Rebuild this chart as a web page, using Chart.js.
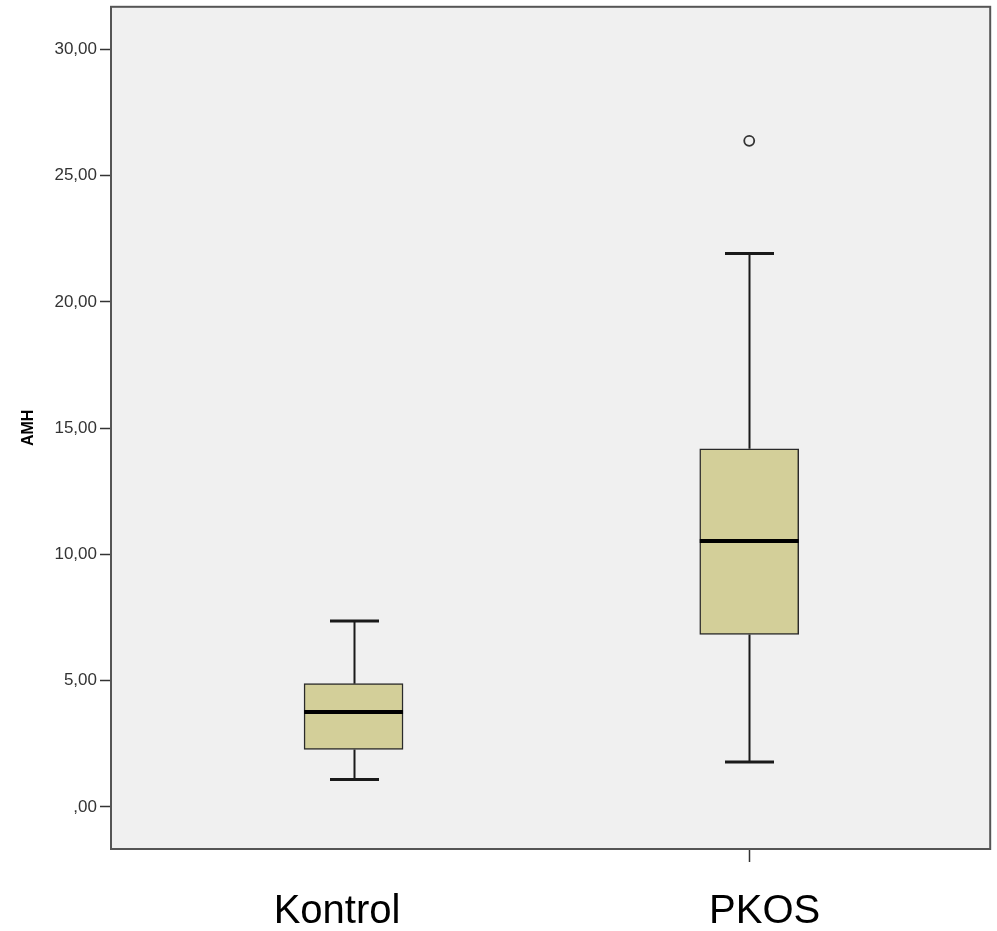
<!DOCTYPE html>
<html>
<head>
<meta charset="utf-8">
<script src="https://cdn.jsdelivr.net/npm/chart.js@4/dist/chart.umd.min.js"></script>
<style>
  html, body { margin: 0; padding: 0; background: #ffffff; }
  #wrap { width: 997px; height: 931px; }
</style>
</head>
<body>
<div id="wrap"><canvas id="c" width="997" height="931"></canvas></div>
<script>
// ---- Data ----
const categories = ['Kontrol', 'PKOS'];
const mins      = [1.08, 1.78];
const q1s       = [2.27, 6.83];
const medians   = [3.76, 10.53];
const q3s       = [4.88, 14.18];
const maxs      = [7.36, 21.92];
const outlierGroup  = [1];
const outlierValues = [26.38];
const yTickValues = [0, 5, 10, 15, 20, 25, 30];
const yTitle = 'AMH';

// ---- Styles ----
const BOX_FILL = '#d3cf99';
const BOX_WIDTH = 99;
const CAP_HALF = 24.5;

const boxPlotPlugin = {
  id: 'boxplotParts',
  beforeDraw(chart) {
    const { ctx, chartArea: a } = chart;
    ctx.save();
    ctx.fillStyle = '#ffffff';
    ctx.fillRect(0, 0, chart.width, chart.height);
    ctx.fillStyle = '#f0f0f0';
    ctx.fillRect(a.left, a.top, a.right - a.left, a.bottom - a.top);
    ctx.restore();
  },
  beforeDatasetsDraw(chart) {
    const { ctx } = chart;
    const xs = chart.scales.x, ys = chart.scales.y;
    ctx.save();
    ctx.strokeStyle = '#1a1a1a';
    categories.forEach((c, i) => {
      const px = Math.round(xs.getPixelForValue(i)) + 0.5;
      const pMax = ys.getPixelForValue(maxs[i]);
      const pQ3 = ys.getPixelForValue(q3s[i]);
      const pQ1 = ys.getPixelForValue(q1s[i]);
      const pMin = ys.getPixelForValue(mins[i]);
      ctx.lineWidth = 2;
      ctx.beginPath();
      ctx.moveTo(px, pMax); ctx.lineTo(px, pQ3);
      ctx.moveTo(px, pQ1); ctx.lineTo(px, pMin);
      ctx.stroke();
      ctx.lineWidth = 3;
      ctx.beginPath();
      ctx.moveTo(px - CAP_HALF, pMax); ctx.lineTo(px + CAP_HALF, pMax);
      ctx.moveTo(px - CAP_HALF, pMin); ctx.lineTo(px + CAP_HALF, pMin);
      ctx.stroke();
    });
    ctx.restore();
  },
  afterDatasetsDraw(chart) {
    const { ctx } = chart;
    const xs = chart.scales.x, ys = chart.scales.y;
    ctx.save();
    ctx.strokeStyle = '#000000';
    ctx.lineWidth = 4;
    categories.forEach((c, i) => {
      const px = xs.getPixelForValue(i);
      const pm = ys.getPixelForValue(medians[i]);
      ctx.beginPath();
      ctx.moveTo(px - BOX_WIDTH / 2, pm);
      ctx.lineTo(px + BOX_WIDTH / 2, pm);
      ctx.stroke();
    });
    ctx.restore();
  },
  afterDraw(chart) {
    const { ctx, chartArea: a } = chart;
    ctx.save();
    ctx.strokeStyle = '#555555';
    ctx.lineWidth = 2;
    ctx.strokeRect(a.left, a.top, a.right - a.left, a.bottom - a.top);
    ctx.restore();
  }
};

function fmt(v) {
  if (v === 0) return ',00';
  return v.toFixed(2).replace('.', ',');
}

new Chart(document.getElementById('c'), {
  data: {
    datasets: [
      {
        type: 'bar',
        data: categories.map((c, i) => ({ x: i, y: [q1s[i], q3s[i]] })),
        backgroundColor: BOX_FILL,
        borderColor: '#2a2a2a',
        borderWidth: 1.5,
        borderSkipped: false,
        barThickness: BOX_WIDTH,
        xAxisID: 'x',
        yAxisID: 'y'
      },
      {
        type: 'scatter',
        data: outlierValues.map((v, k) => ({ x: outlierGroup[k], y: v })),
        pointRadius: 5,
        pointBackgroundColor: 'rgba(0,0,0,0)',
        pointBorderColor: '#333333',
        pointBorderWidth: 1.8,
        xAxisID: 'x',
        yAxisID: 'y'
      }
    ]
  },
  options: {
    responsive: false,
    animation: false,
    layout: { padding: { top: 6, right: 3, left: 0, bottom: 0 } },
    plugins: { legend: { display: false }, tooltip: { enabled: false } },
    scales: {
      x: {
        type: 'linear',
        position: 'bottom',
        weight: 0,
        offset: false,
        min: -0.613,
        max: 1.609,
        afterBuildTicks: (s) => { s.ticks = categories.map((c, i) => ({ value: i })); },
        ticks: { callback: () => '', padding: 0 },
        grid: {
          offset: false,
          drawOnChartArea: false,
          drawTicks: true,
          tickLength: 13,
          tickWidth: 1.5,
          color: (ctx) => (ctx.tick && ctx.tick.value === 1 ? '#333333' : 'rgba(0,0,0,0)')
        },
        border: { display: false },
        afterFit: (s) => { s.height = 13; s.paddingLeft = 0; s.paddingRight = 0; }
      },
      x2: {
        type: 'linear',
        position: 'bottom',
        weight: 1,
        offset: false,
        min: -0.5286,
        max: 1.5274,
        afterBuildTicks: (s) => { s.ticks = categories.map((c, i) => ({ value: i })); },
        grid: { display: false, drawTicks: false },
        border: { display: false },
        ticks: {
          callback: (v) => categories[v] ?? '',
          color: '#000000',
          font: { family: "'Liberation Sans', Arial, sans-serif", size: 40 },
          padding: 26
        },
        afterFit: (s) => { s.height = 69; s.paddingLeft = 0; s.paddingRight = 0; }
      },
      y: {
        type: 'linear',
        position: 'left',
        min: -1.67,
        max: 31.69,
        afterBuildTicks: (s) => { s.ticks = yTickValues.map(v => ({ value: v })); },
        ticks: {
          callback: (v) => fmt(v),
          color: '#333333',
          font: { family: "'Liberation Sans', Arial, sans-serif", size: 17 },
          padding: 3
        },
        grid: {
          drawOnChartArea: false,
          drawTicks: true,
          tickLength: 11,
          tickWidth: 1.5,
          color: '#333333'
        },
        border: { display: false },
        title: {
          display: true,
          text: yTitle,
          color: '#000000',
          font: { family: "'Liberation Sans', Arial, sans-serif", size: 16, weight: 'bold' },
          padding: { top: 19, bottom: 0 }
        },
        afterFit: (s) => { s.width = 111; s.paddingTop = 0; s.paddingBottom = 0; }
      }
    }
  },
  plugins: [boxPlotPlugin]
});
</script>
</body>
</html>
